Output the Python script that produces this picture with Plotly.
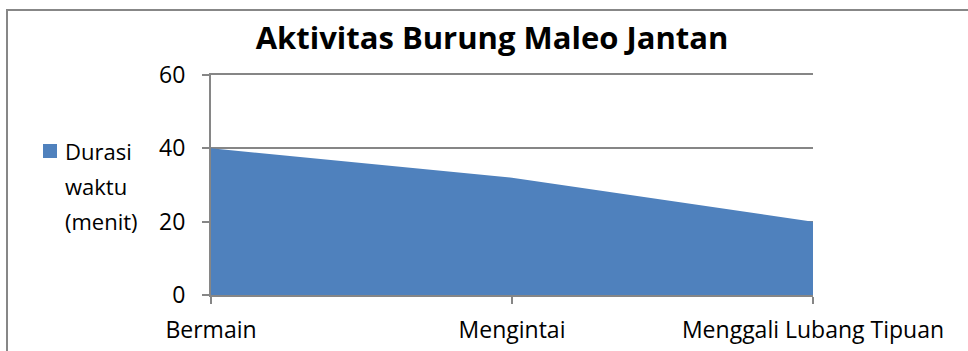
import plotly.graph_objects as go

categories = ["Bermain", "Mengintai", "Menggali Lubang Tipuan"]
durasi = [40, 32, 20]
y_ticks = [0, 20, 40, 60]
series_name = "Durasi waktu (menit)"
legend_lines = ["Durasi", "waktu", "(menit)"]
title_text = "Aktivitas Burung Maleo Jantan"

W, H = 968, 351
L, R, T, B = 211, 813, 75, 295
FONT = "Open Sans"
GRAY = "#868686"
BLUE = "#4F81BD"


def px_x(p):
    return (p - L) / (R - L)


def px_y(p):
    return (B - p) / (B - T)


fig = go.Figure()
fig.add_trace(go.Scatter(
    x=list(range(len(categories))), y=durasi, name=series_name,
    mode="lines", fill="tozeroy", fillcolor=BLUE,
    line=dict(width=0, color=BLUE), showlegend=False, hoverinfo="x+y",
))

fig.update_layout(
    width=W, height=H,
    margin=dict(l=L, r=W - R, t=T, b=H - B, autoexpand=False),
    paper_bgcolor="white", plot_bgcolor="white",
    font=dict(family=FONT, color="black", size=22),
    title=dict(text="<b>" + title_text + "</b>", x=492 / W, xanchor="center",
               y=1 - 38 / H, yanchor="middle", yref="container",
               font=dict(family=FONT, size=31, color="black")),
    xaxis=dict(
        range=[0, len(categories) - 1], tickmode="array",
        tickvals=list(range(len(categories))), ticktext=categories,
        showgrid=False, zeroline=False, showline=True, linecolor=GRAY, linewidth=2,
        mirror=True, automargin=False,
        ticks="outside", ticklen=7, tickcolor=GRAY, tickwidth=2,
        tickfont=dict(family=FONT, size=23), ticklabelstandoff=6,
    ),
    yaxis=dict(
        range=[0, 60], tickmode="array", tickvals=y_ticks,
        showgrid=True, gridcolor=GRAY, gridwidth=2, zeroline=False,
        showline=True, linecolor=GRAY, linewidth=2, automargin=False,
        ticks="outside", ticklen=7, tickcolor=GRAY, tickwidth=2,
        tickfont=dict(family=FONT, size=23), ticklabelstandoff=12,
    ),
)

# chart border (extends beyond the visible window at right and bottom)
fig.add_shape(type="rect", xref="paper", yref="paper",
              x0=px_x(7), x1=px_x(1100), y0=px_y(500), y1=px_y(10),
              line=dict(color="#878787", width=2), fillcolor="rgba(0,0,0,0)", layer="below")

# legend
fig.add_shape(type="rect", xref="paper", yref="paper",
              x0=px_x(43), x1=px_x(57), y0=px_y(158), y1=px_y(144),
              line=dict(width=0), fillcolor=BLUE)
for txt, yc in zip(legend_lines, [151, 186, 221]):
    fig.add_annotation(text=txt, xref="paper", yref="paper",
                       x=px_x(63), y=px_y(yc), xanchor="left", yanchor="middle",
                       showarrow=False, font=dict(family=FONT, size=22, color="black"))

fig.write_html("out.html")
